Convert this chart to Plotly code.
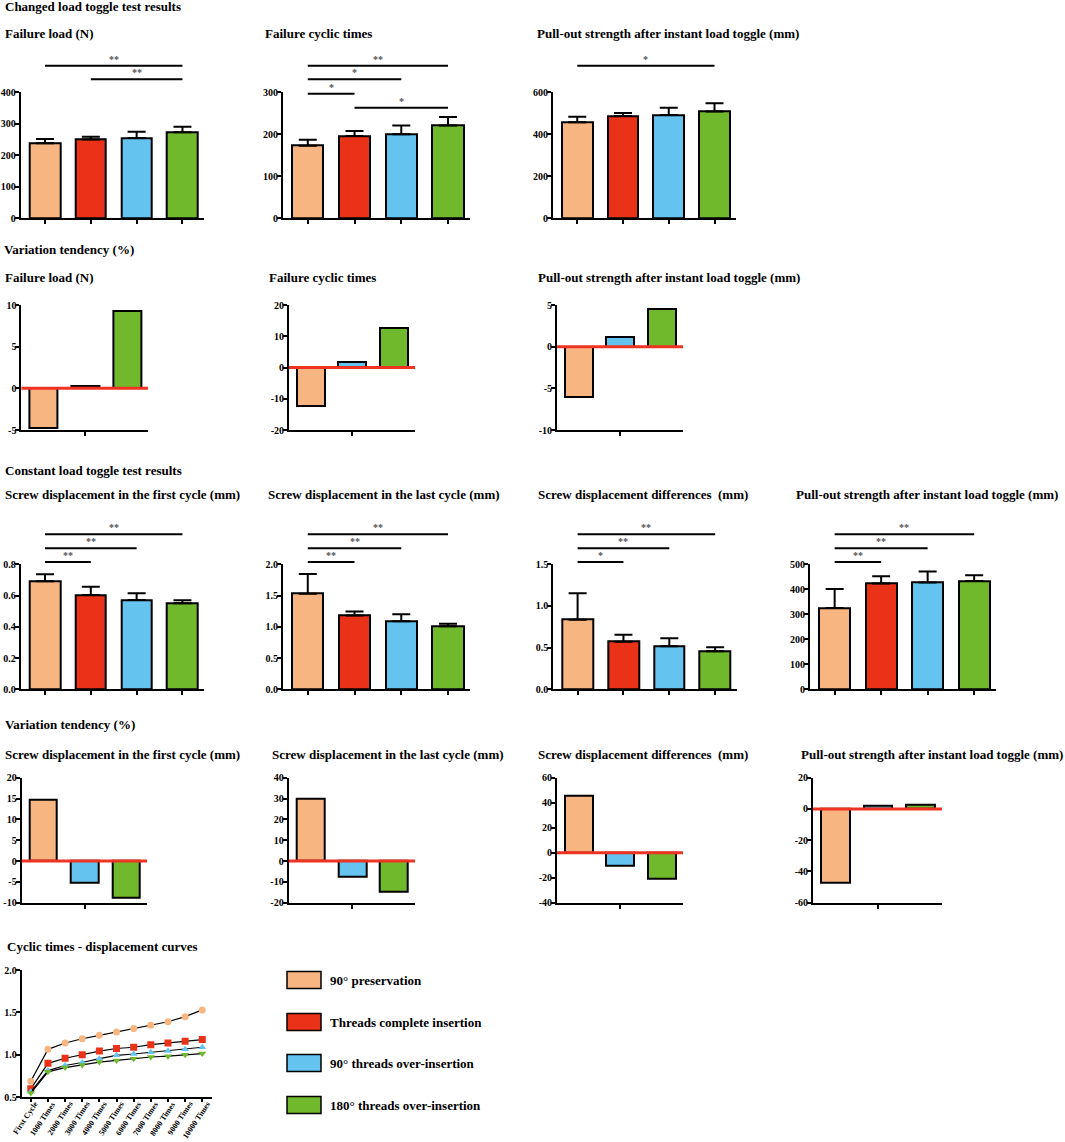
import plotly.graph_objects as go

W, H = 1065, 1142

# groups and colours
groups = ["90° preservation", "Threads complete insertion",
          "90° threads over-insertion", "180° threads over-insertion"]
colors = ["#F7B582", "#E93218", "#65C3EF", "#70B92C"]
var_groups = [groups[0], groups[2], groups[3]]
var_colors = [colors[0], colors[2], colors[3]]

# changed load toggle test (mean, upper SD)
failure_load = [238, 250, 255, 273]
failure_load_sd = [14, 9, 20, 18]
failure_cycles = [173, 196, 200, 221]
failure_cycles_sd = [14, 12, 21, 20]
pullout_changed = [457, 487, 492, 508]
pullout_changed_sd = [26, 15, 35, 40]

# variation tendency (%) vs threads complete insertion
var_failure_load = [-4.8, 0.3, 9.3]
var_failure_cycles = [-12.2, 1.9, 12.8]
var_pullout_changed = [-6.0, 1.2, 4.5]

# constant load toggle test
disp_first = [0.691, 0.604, 0.572, 0.550]
disp_first_sd = [0.045, 0.053, 0.042, 0.020]
disp_last = [1.53, 1.18, 1.09, 1.01]
disp_last_sd = [0.315, 0.063, 0.11, 0.04]
disp_diff = [0.836, 0.572, 0.516, 0.456]
disp_diff_sd = [0.316, 0.084, 0.096, 0.048]
pullout_const = [325, 423, 427, 433]
pullout_const_sd = [76, 29, 44, 23]

var_disp_first = [14.8, -5.2, -8.7]
var_disp_last = [29.8, -7.5, -14.6]
var_disp_diff = [45.6, -10.4, -20.8]
var_pullout_const = [-46.9, 1.9, 2.8]

# significance comparisons (group i, group j, label)
sig_failure_load = [(1, 3, "**"), (0, 3, "**")]
sig_failure_cycles = [(1, 3, "*"), (0, 1, "*"), (0, 2, "*"), (0, 3, "**")]
sig_pullout_changed = [(0, 3, "*")]
sig_disp_first = [(0, 1, "**"), (0, 2, "**"), (0, 3, "**")]
sig_disp_last = [(0, 1, "**"), (0, 2, "**"), (0, 3, "**")]
sig_disp_diff = [(0, 1, "*"), (0, 2, "**"), (0, 3, "**")]
sig_pullout_const = [(0, 1, "**"), (0, 2, "**"), (0, 3, "**")]

# cyclic times - displacement curves
cycles = ["First Cycle", "1000 Times", "2000 Times", "3000 Times", "4000 Times",
          "5000 Times", "6000 Times", "7000 Times", "8000 Times", "9000 Times",
          "10000 Times"]
curve_preservation = [0.69, 1.065, 1.14, 1.19, 1.23, 1.27, 1.31, 1.35, 1.39, 1.45, 1.53]
curve_complete = [0.60, 0.90, 0.96, 1.00, 1.045, 1.075, 1.09, 1.12, 1.14, 1.16, 1.18]
curve_over90 = [0.565, 0.815, 0.875, 0.91, 0.955, 0.995, 1.01, 1.03, 1.045, 1.065, 1.09]
curve_over180 = [0.55, 0.80, 0.85, 0.88, 0.915, 0.935, 0.955, 0.975, 0.985, 1.00, 1.015]
curves = [curve_preservation, curve_complete, curve_over90, curve_over180]
symbols = ["circle", "square", "triangle-up", "triangle-down"]

FONT = "Liberation Serif"
fig = go.Figure()
layout = {}
shapes = []
annotations = []

tickfont = dict(family=FONT, size=10, color="black", weight="bold")
axis_style = dict(showline=True, linecolor="black", linewidth=2, ticks="outside",
                  ticklen=4, tickwidth=1.5, tickcolor="black", showgrid=False,
                  zeroline=False, tickfont=tickfont, fixedrange=True, automargin=False)


def names(n):
    s = "" if n == 1 else str(n)
    return "x" + s, "y" + s, "xaxis" + s, "yaxis" + s


def yticks(lo, hi, step, dec):
    vals = []
    v = lo
    while v <= hi + 1e-9:
        vals.append(round(v, 6))
        v += step
    return vals, [f"{t:.{dec}f}" for t in vals]


def text(x, y, s, size=13, color="black", anchor="left"):
    annotations.append(dict(x=x / W, y=1 - y / H, xref="paper", yref="paper", text=s,
                            showarrow=False, xanchor=anchor, yanchor="middle",
                            font=dict(family=FONT, size=size, color=color, weight="bold")))


def bar_panel(n, left, right, top, bottom, mean, sd, ymax, step, dec, sigs, levels):
    xa, ya, xk, yk = names(n)
    fig.add_trace(go.Bar(x=groups, y=mean, width=0.67, xaxis=xa, yaxis=ya, showlegend=False,
                         marker=dict(color=colors, line=dict(color="black", width=2)),
                         error_y=dict(type="data", array=sd, arrayminus=[0] * len(sd),
                                      symmetric=False, color="black", thickness=2, width=9)))
    tv, tt = yticks(0, ymax, step, dec)
    layout[xk] = dict(axis_style, domain=[left / W, right / W], anchor=ya, type="category",
                      range=[-0.53, 3.47], showticklabels=False)
    layout[yk] = dict(axis_style, domain=[1 - bottom / H, 1 - top / H], anchor=xa,
                      range=[0, ymax], tickvals=tv, ticktext=tt, ticklabelstandoff=-3)
    for (i, j, lab), lev in zip(sigs, levels):
        shapes.append(dict(type="line", xref=xa, yref=ya + " domain", x0=i, x1=j, y0=lev, y1=lev,
                           line=dict(color="black", width=2)))
        annotations.append(dict(x=(i + j) / 2, y=lev, xref=xa, yref=ya + " domain", text=lab,
                                showarrow=False, yanchor="bottom", yshift=-1,
                                font=dict(family=FONT, size=10, color="#555555", weight="bold")))


def var_panel(n, left, right, top, bottom, vals, lo, hi, step):
    xa, ya, xk, yk = names(n)
    fig.add_trace(go.Bar(x=var_groups, y=vals, width=0.67, xaxis=xa, yaxis=ya, showlegend=False,
                         marker=dict(color=var_colors, line=dict(color="black", width=2))))
    tv, tt = yticks(lo, hi, step, 0)
    layout[xk] = dict(axis_style, domain=[left / W, right / W], anchor=ya, type="category",
                      range=[-0.52, 2.5], tickvals=[var_groups[1]], showticklabels=False)
    layout[yk] = dict(axis_style, domain=[1 - bottom / H, 1 - top / H], anchor=xa,
                      range=[lo, hi], tickvals=tv, ticktext=tt, ticklabelstandoff=-3)
    shapes.append(dict(type="line", xref=xa + " domain", yref=ya, x0=0, x1=1, y0=0, y1=0,
                       line=dict(color="#EE3322", width=3), layer="above"))


# row 1 - changed load toggle
lv1 = [0.878, 0.989, 1.103, 1.211]
bar_panel(1, 20.7, 204, 92.3, 218.3, failure_load, failure_load_sd, 400, 100, 0,
          sig_failure_load, [lv1[2], lv1[3]])
bar_panel(2, 283, 470, 92.3, 218.3, failure_cycles, failure_cycles_sd, 300, 100, 0,
          sig_failure_cycles, lv1)
bar_panel(3, 553, 736, 92.3, 218.3, pullout_changed, pullout_changed_sd, 600, 200, 0,
          sig_pullout_changed, [lv1[3]])

# row 2 - variation
var_panel(4, 21.4, 148, 305, 430, var_failure_load, -5, 10, 5)
var_panel(5, 289, 415, 305, 430, var_failure_cycles, -20, 20, 10)
var_panel(6, 557, 683, 305, 430, var_pullout_changed, -10, 5, 5)

# row 3 - constant load toggle
lv3 = [1.018, 1.128, 1.24]
bar_panel(7, 20.7, 204, 564.3, 689.3, disp_first, disp_first_sd, 0.8, 0.2, 1, sig_disp_first, lv3)
bar_panel(8, 283, 470, 564.3, 689.3, disp_last, disp_last_sd, 2.0, 0.5, 1, sig_disp_last, lv3)
bar_panel(9, 553.3, 736.7, 564.3, 689.3, disp_diff, disp_diff_sd, 1.5, 0.5, 1, sig_disp_diff, lv3)
bar_panel(10, 810, 996, 564.3, 689.3, pullout_const, pullout_const_sd, 500, 100, 0,
          sig_pullout_const, lv3)

# row 4 - variation
var_panel(11, 21.7, 147, 777.7, 902.7, var_disp_first, -10, 20, 5)
var_panel(12, 288.7, 415, 777.7, 902.7, var_disp_last, -20, 40, 10)
var_panel(13, 557, 683, 777.7, 902.7, var_disp_diff, -40, 60, 20)
var_panel(14, 813, 942, 777.7, 902.7, var_pullout_const, -60, 20, 20)

# cyclic curves
for g, c, ys, sym in zip(groups, colors, curves, symbols):
    fig.add_trace(go.Scatter(x=cycles, y=ys, mode="lines+markers", name=g, showlegend=False,
                             xaxis="x15", yaxis="y15", line=dict(color="black", width=1.2),
                             marker=dict(color=c, symbol=sym, size=7, line=dict(width=0))))
tv, tt = yticks(0.5, 2.0, 0.5, 1)
layout["xaxis15"] = dict(axis_style, domain=[21.7 / W, 211.7 / W], anchor="y15", type="category",
                         range=[-0.53, 10.55], ticklen=3, showticklabels=False)
layout["yaxis15"] = dict(axis_style, domain=[1 - 1097.3 / H, 1 - 970 / H], anchor="x15",
                         range=[0.5, 2.0], tickvals=tv, ticktext=tt, ticklabelstandoff=-3)
# slanted category labels, set just right of each tick as in the original
for cyc in cycles:
    annotations.append(dict(x=cyc, y=0, xref="x15", yref="y15 domain", text=cyc,
                            showarrow=False, textangle=-56, xanchor="right", yanchor="top",
                            xshift=11, yshift=-1, borderpad=0,
                            font=dict(family=FONT, size=8, color="black", weight="bold")))

# legend
leg_y = [980, 1022, 1063, 1105]
for g, c, yy in zip(groups, colors, leg_y):
    shapes.append(dict(type="rect", xref="paper", yref="paper", x0=287 / W, x1=321 / W,
                       y0=1 - (yy + 8.5) / H, y1=1 - (yy - 8.5) / H, fillcolor=c,
                       line=dict(color="black", width=1.5)))
    text(328, yy, g)

# headings
text(3, 7, "Changed load toggle test results")
text(3, 33, "Failure load (N)")
text(263, 33, "Failure cyclic times")
text(535, 33, "Pull-out strength after instant load toggle (mm)")
text(2, 250, "Variation tendency (%)")
text(3, 277, "Failure load (N)")
text(267, 277, "Failure cyclic times")
text(536, 277, "Pull-out strength after instant load toggle (mm)")
text(3, 470, "Constant load toggle test results")
text(3, 494, "Screw displacement in the first cycle (mm)")
text(266, 494, "Screw displacement in the last cycle (mm)")
text(536, 494, "Screw displacement differences\u00a0 (mm)")
text(794, 494, "Pull-out strength after instant load toggle (mm)")
text(3, 724, "Variation tendency (%)")
text(3, 754, "Screw displacement in the first cycle (mm)")
text(270, 754, "Screw displacement in the last cycle (mm)")
text(536, 754, "Screw displacement differences\u00a0 (mm)")
text(799, 754, "Pull-out strength after instant load toggle (mm)")
text(5, 946, "Cyclic times - displacement curves")

fig.update_layout(template="none", width=W, height=H, margin=dict(l=0, r=0, t=0, b=0),
                  autosize=False, paper_bgcolor="white", plot_bgcolor="white", bargap=0,
                  font=dict(family=FONT, color="black"), showlegend=False, shapes=shapes,
                  annotations=annotations, **layout)

# page body margin would push the figure 8px off the window
fig.write_html("out.html", config={"displayModeBar": False},
               post_script="document.body.style.margin='0';")
